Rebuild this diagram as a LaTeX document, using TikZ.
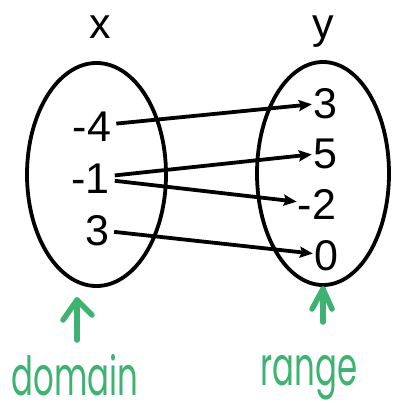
\documentclass[tikz,border=0pt]{standalone}
\usepackage{fontspec}
\setmainfont{Liberation Sans}
\newfontfamily\hand[FakeStretch=0.6]{Poppins}
\usetikzlibrary{arrows.meta,shapes.geometric}
\definecolor{hgreen}{RGB}{60,179,113}
\tikzset{
  setbox/.style={draw,ellipse,line width=3.8pt,inner sep=0pt},
  num/.style={inner sep=0pt,font=\fontsize{43}{43}\selectfont,text height=31pt,text depth=0pt},
  lab/.style={inner sep=0pt,font=\fontsize{43}{43}\selectfont},
  maparrow/.style={line width=3.8pt,-{Stealth[length=13pt,width=11pt,inset=2pt]},shorten <=5pt,shorten >=1pt},
  greenarrow/.style={hgreen,line width=5.5pt,line cap=round,line join=round},
  handtext/.style={hgreen,inner sep=0pt,anchor=base,font=\hand\fontsize{54}{54}\selectfont}
}
\begin{document}
\begin{tikzpicture}[x=1pt,y=-1pt]
\useasboundingbox (0,0) rectangle (392,403);
\clip (0,0) rectangle (392,403);
% sets
\node[setbox,minimum width=139pt,minimum height=223pt] (dom) at (96.5,174.5) {};
\node[setbox,minimum width=132pt,minimum height=223pt] (ran) at (323,173.5) {};
% headers
\node[lab,anchor=base] (xl) at (100,39) {x};
\node[lab,anchor=base] (yl) at (323,39) {y};
% domain values
\node[num] (m4) at (92,126) {-4};
\node[num] (m1) at (90.5,178) {-1};
\node[num] (t3) at (97,230) {3};
% range values
\node[num] (r3) at (325,103) {3};
\node[num] (r5) at (325,153) {5};
\node[num] (rm2) at (317,204) {-2};
\node[num] (r0) at (326,255) {0};
% mapping arrows
\draw[maparrow] (m4) -- (r3);
\draw[maparrow] (m1) -- (r5);
\draw[maparrow] (m1) -- (rm2);
\draw[maparrow] (t3) -- (r0);
% green annotations
\coordinate (dtip) at (77,300);
\coordinate (dtail) at (77,340);
\coordinate (rtip) at (323,289);
\coordinate (rtail) at (323,322);
\draw[greenarrow] (dtail) -- (dtip);
\draw[greenarrow] (63,320) -- (dtip) -- (92,315);
\draw[greenarrow] (rtail) -- (rtip);
\draw[greenarrow] (312,309) -- (rtip) -- (332,309);
\node[handtext] (dtext) at (75,395) {domain};
\node[handtext] (rtext) at (309,385) {range};
\end{tikzpicture}
\end{document}
